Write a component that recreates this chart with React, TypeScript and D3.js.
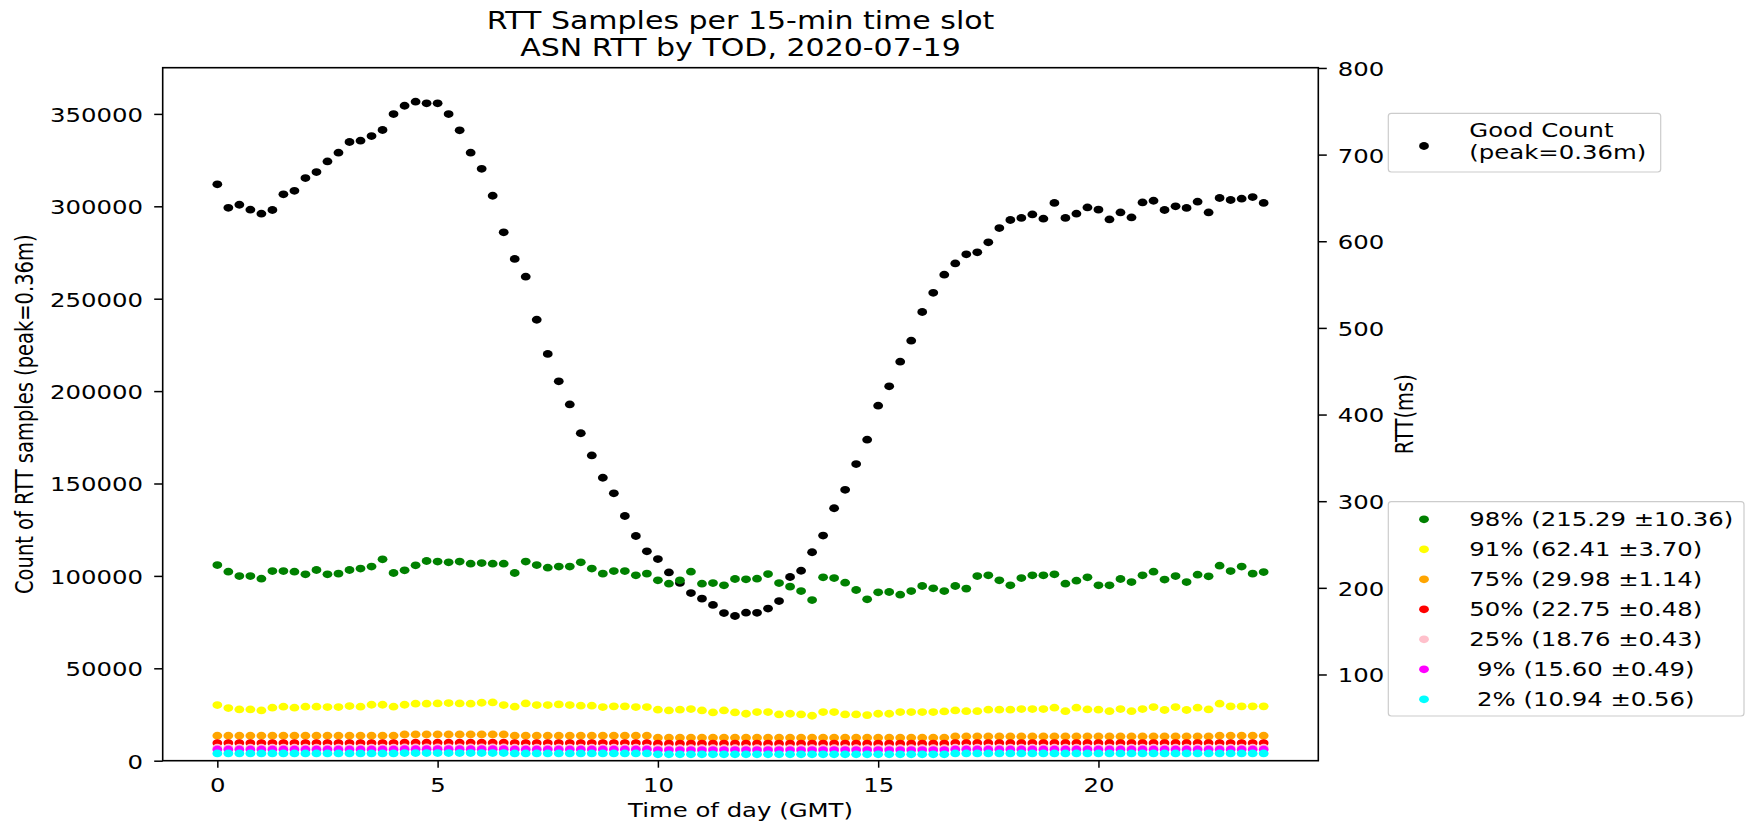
import * as d3 from "d3";
import { useEffect, useRef } from "react";

// 15-min slots, hours of day
const slots = d3.range(0, 24, 0.25);

// Good Count (left axis)
const goodCount = [
  311900, 299200, 300850, 298150, 296000, 298000, 306500, 308400, 315300, 318500,
  324300, 329000, 334800, 335500, 338000, 341300, 349900, 354400, 356600, 355700,
  355700, 349900, 341100, 329000, 320300, 305700, 285900, 271500, 261900, 238600,
  220100, 205300, 192800, 177200, 165200, 153100, 144700, 132400, 121600, 113300,
  109100, 101900, 96200, 90700, 87700, 84300, 79900, 78300, 80100, 80000,
  82300, 86400, 99400, 102800, 112800, 121800, 136600, 146600, 160500, 173700,
  192100, 202600, 215900, 227300, 242800, 253200, 263000, 269100, 274000, 275100,
  280500, 288200, 292600, 293700, 295600, 293300, 301800, 293700, 296000, 299400,
  298200, 292900, 296700, 294000, 302100, 303000, 298000, 300000, 299100, 302500,
  296700, 304500, 303400, 304100, 305000, 301800,
];

// RTT percentiles (right axis, ms)
const p98 = [
  226.3, 218.7, 213.6, 213.6, 210.6, 219.4, 219.4, 218.7, 215.6, 220.6,
  215.6, 216.4, 220.6, 222.2, 224.5, 232.9, 217.1, 220.2, 226.0, 231.0,
  230.3, 229.4, 230.3, 227.9, 228.6, 227.9, 227.9, 217.1, 230.3, 226.3,
  223.3, 224.5, 224.5, 229.4, 222.2, 216.4, 219.4, 219.4, 214.4, 216.4,
  208.7, 204.8, 208.7, 218.7, 204.8, 205.5, 202.9, 210.2, 209.8, 210.6,
  215.9, 205.5, 201.4, 196.3, 185.9, 212.1, 211.3, 206.0, 197.5, 186.7,
  194.8, 195.2, 192.1, 196.3, 202.1, 199.4, 196.3, 202.1, 199.1, 213.6,
  214.4, 208.7, 202.9, 211.3, 214.4, 214.4, 215.6, 204.8, 208.3, 212.1,
  202.9, 202.9, 210.2, 206.7, 214.4, 218.7, 209.5, 213.6, 206.7, 215.2,
  213.3, 225.6, 219.4, 224.5, 216.4, 218.2,
];
const p91 = [
  64.7, 61.2, 59.7, 59.7, 58.5, 61.7, 62.8, 61.7, 62.8, 62.8,
  62.4, 62.4, 63.5, 62.8, 65.1, 65.1, 62.8, 65.1, 66.3, 66.3,
  66.6, 67.0, 66.6, 66.3, 67.4, 67.8, 64.7, 62.8, 66.6, 64.7,
  64.7, 65.5, 64.7, 64.0, 64.0, 62.4, 63.2, 63.2, 62.4, 62.4,
  59.4, 58.5, 59.4, 60.1, 58.5, 56.2, 58.5, 56.2, 54.7, 56.6,
  56.6, 53.9, 54.7, 53.9, 52.4, 56.6, 56.6, 53.9, 53.9, 53.1,
  54.7, 54.7, 56.6, 56.6, 56.6, 56.6, 57.4, 58.5, 57.7, 57.7,
  59.4, 59.4, 59.4, 60.1, 60.1, 60.1, 61.7, 57.7, 61.7, 59.7,
  59.4, 57.7, 60.1, 57.7, 60.1, 62.4, 59.0, 62.4, 59.0, 61.7,
  59.7, 66.3, 63.2, 63.2, 63.2, 63.2,
];
const p75 = [
  29.3, 29.3, 29.3, 29.3, 29.3, 29.3, 29.3, 29.3, 29.3, 29.3,
  29.3, 29.3, 29.3, 29.3, 29.3, 29.3, 29.3, 30.8, 30.8, 30.8,
  30.8, 30.8, 30.8, 30.8, 30.8, 30.8, 30.8, 29.3, 29.3, 29.3,
  29.3, 29.3, 29.3, 29.3, 29.3, 29.3, 29.3, 29.3, 29.3, 29.3,
  27.0, 27.0, 27.0, 27.0, 27.0, 27.0, 27.0, 27.0, 27.0, 27.0,
  27.0, 27.0, 27.0, 27.0, 27.0, 27.0, 27.0, 27.0, 27.0, 27.0,
  27.0, 27.0, 27.0, 27.0, 27.0, 27.0, 27.0, 28.5, 28.5, 28.5,
  28.5, 28.5, 28.5, 28.5, 28.5, 28.5, 28.5, 28.5, 28.5, 28.5,
  28.5, 28.5, 28.5, 28.5, 28.5, 28.5, 28.5, 28.5, 28.5, 28.5,
  28.5, 29.3, 29.3, 29.3, 29.3, 29.3,
];
const p50 = [
  20.8, 20.8, 20.8, 20.8, 20.8, 20.8, 20.8, 20.8, 20.8, 20.8,
  20.8, 20.8, 20.8, 20.8, 20.8, 20.8, 20.8, 21.2, 21.2, 21.2,
  21.2, 21.2, 21.2, 21.2, 21.2, 21.2, 21.2, 20.8, 20.8, 20.8,
  20.8, 20.8, 20.8, 20.8, 20.8, 20.8, 20.8, 20.8, 20.8, 20.8,
  20.2, 20.2, 20.2, 20.2, 20.2, 20.2, 20.2, 20.2, 20.2, 20.2,
  20.2, 20.2, 20.2, 20.2, 20.2, 20.2, 20.2, 20.2, 20.2, 20.2,
  20.2, 20.2, 20.2, 20.2, 20.2, 20.2, 20.2, 20.8, 20.8, 20.8,
  20.8, 20.8, 20.8, 20.8, 20.8, 20.8, 20.8, 20.8, 20.8, 20.8,
  20.8, 20.8, 20.8, 20.8, 20.8, 20.8, 20.8, 20.8, 20.8, 20.8,
  20.8, 20.8, 20.8, 20.8, 20.8, 20.8,
];
const p25 = [
  15.5, 15.5, 15.5, 15.5, 15.5, 15.5, 15.5, 15.5, 15.5, 15.5,
  15.5, 15.5, 15.5, 15.5, 15.5, 15.5, 15.5, 15.8, 15.8, 15.8,
  15.8, 15.8, 15.8, 15.8, 15.8, 15.8, 15.8, 15.5, 15.5, 15.5,
  15.5, 15.5, 15.5, 15.5, 15.5, 15.5, 15.5, 15.5, 15.5, 15.5,
  15.0, 15.0, 15.0, 15.0, 15.0, 15.0, 15.0, 15.0, 15.0, 15.0,
  15.0, 15.0, 15.0, 15.0, 15.0, 15.0, 15.0, 15.0, 15.0, 15.0,
  15.0, 15.0, 15.0, 15.0, 15.0, 15.0, 15.0, 15.5, 15.5, 15.5,
  15.5, 15.5, 15.5, 15.5, 15.5, 15.5, 15.5, 15.5, 15.5, 15.5,
  15.5, 15.5, 15.5, 15.5, 15.5, 15.5, 15.5, 15.5, 15.5, 15.5,
  15.5, 15.5, 15.5, 15.5, 15.5, 15.5,
];
const p9 = [
  13.4, 13.4, 13.4, 13.4, 13.4, 13.4, 13.4, 13.4, 13.4, 13.4,
  13.4, 13.4, 13.4, 13.4, 13.4, 13.4, 13.4, 13.8, 13.8, 13.8,
  13.8, 13.8, 13.8, 13.8, 13.8, 13.8, 13.8, 13.4, 13.4, 13.4,
  13.4, 13.4, 13.4, 13.4, 13.4, 13.4, 13.4, 13.4, 13.4, 13.4,
  12.8, 12.8, 12.8, 12.8, 12.8, 12.8, 12.8, 12.8, 12.8, 12.8,
  12.8, 12.8, 12.8, 12.8, 12.8, 12.8, 12.8, 12.8, 12.8, 12.8,
  12.8, 12.8, 12.8, 12.8, 12.8, 12.8, 12.8, 13.4, 13.4, 13.4,
  13.4, 13.4, 13.4, 13.4, 13.4, 13.4, 13.4, 13.4, 13.4, 13.4,
  13.4, 13.4, 13.4, 13.4, 13.4, 13.4, 13.4, 13.4, 13.4, 13.4,
  13.4, 13.4, 13.4, 13.4, 13.4, 13.4,
];
const p2 = [
  8.9, 8.9, 8.9, 8.9, 8.9, 8.9, 8.9, 8.9, 8.9, 8.9,
  8.9, 8.9, 8.9, 8.9, 8.9, 8.9, 8.9, 9.3, 9.3, 9.3,
  9.3, 9.3, 9.3, 9.3, 9.3, 9.3, 9.3, 8.9, 8.9, 8.9,
  8.9, 8.9, 8.9, 8.9, 8.9, 8.9, 8.9, 8.9, 8.9, 8.9,
  7.9, 7.9, 7.9, 7.9, 7.9, 7.9, 7.9, 7.9, 7.9, 7.9,
  7.9, 7.9, 7.9, 7.9, 7.9, 7.9, 7.9, 7.9, 7.9, 7.9,
  7.9, 7.9, 7.9, 7.9, 7.9, 7.9, 7.9, 8.9, 8.9, 8.9,
  8.9, 8.9, 8.9, 8.9, 8.9, 8.9, 8.9, 8.9, 8.9, 8.9,
  8.9, 8.9, 8.9, 8.9, 8.9, 8.9, 8.9, 8.9, 8.9, 8.9,
  8.9, 8.9, 8.9, 8.9, 8.9, 8.9,
];

const pctSeries = [p98, p91, p75, p50, p25, p9, p2];
const pctColors = ["green", "yellow", "orange", "red", "pink", "magenta", "cyan"];
const pctLabels = [
  "98% (215.29 ±10.36)",
  "91% (62.41 ±3.70)",
  "75% (29.98 ±1.14)",
  "50% (22.75 ±0.48)",
  "25% (18.76 ±0.43)",
  " 9% (15.60 ±0.49)",
  " 2% (10.94 ±0.56)",
];

const leftTicks = [0, 50000, 100000, 150000, 200000, 250000, 300000, 350000];
const rightTicks = [100, 200, 300, 400, 500, 600, 700, 800];
const xTicks = [0, 5, 10, 15, 20];

const W = 1746, H = 823;
const SX = 1.25; // the picture is stretched sideways
const FONT = "DejaVu Sans, sans-serif";
const RX = 4.9, RY = 3.9;

const App = () => {
  const ref = useRef(null);

  useEffect(() => {
    const svg = d3.select(ref.current);
    svg.selectAll("*").remove();

    const left = 162.7, right = 1318.3, top = 67.7, bottom = 760.7;
    const x = d3.scaleLinear().domain([-1.24, 24.99]).range([left, right]);
    const yL = d3.scaleLinear().domain([0, 375000]).range([bottom, top]);
    const yR = d3.scaleLinear().domain([0.5, 800.3]).range([bottom, top]);

    const label = (tx, ty, txt, size, anchor, rot) => {
      svg.append("text")
        .attr("transform", `translate(${tx},${ty}) scale(${SX},1)` + (rot ? " rotate(-90)" : ""))
        .attr("text-anchor", anchor)
        .attr("font-size", size)
        .attr("font-family", FONT)
        .attr("fill", "black")
        .style("white-space", "pre")
        .text(txt);
    };

    // good count
    svg.append("g").selectAll("ellipse")
      .data(goodCount)
      .join("ellipse")
      .attr("cx", (d, i) => x(slots[i]))
      .attr("cy", (d) => yL(d))
      .attr("rx", RX).attr("ry", RY)
      .attr("fill", "black");

    // percentiles on the twin axis
    pctSeries.forEach((vals, k) => {
      svg.append("g").selectAll("ellipse")
        .data(vals)
        .join("ellipse")
        .attr("cx", (d, i) => x(slots[i]))
        .attr("cy", (d) => yR(d))
        .attr("rx", RX).attr("ry", RY)
        .attr("fill", pctColors[k]);
    });

    // spines
    svg.append("rect")
      .attr("x", left).attr("y", top)
      .attr("width", right - left).attr("height", bottom - top)
      .attr("fill", "none").attr("stroke", "black").attr("stroke-width", 1.6);

    const styleTicks = (g, shift) => {
      g.select(".domain").remove();
      g.selectAll(".tick line").attr("stroke", "black").attr("stroke-width", 1.5);
      g.selectAll(".tick text")
        .attr("x", 0).attr("y", 0)
        .attr("transform", shift)
        .attr("font-size", 19.5)
        .attr("font-family", FONT)
        .attr("fill", "black");
    };

    svg.append("g")
      .attr("transform", `translate(${left},0)`)
      .call(d3.axisLeft(yL).tickValues(leftTicks).tickSize(8.5).tickSizeOuter(0).tickFormat(d3.format("d")))
      .call((g) => styleTicks(g, `translate(-19.7,0) scale(${SX},1)`))
      .call((g) => g.selectAll(".tick text").attr("dy", "0.38em"));

    svg.append("g")
      .attr("transform", `translate(${right},0)`)
      .call(d3.axisRight(yR).tickValues(rightTicks).tickSize(8.5).tickSizeOuter(0).tickFormat(d3.format("d")))
      .call((g) => styleTicks(g, `translate(19.4,0) scale(${SX},1)`))
      .call((g) => g.selectAll(".tick text").attr("dy", "0.38em"));

    svg.append("g")
      .attr("transform", `translate(0,${bottom})`)
      .call(d3.axisBottom(x).tickValues(xTicks).tickSize(7).tickSizeOuter(0).tickFormat(d3.format("d")))
      .call((g) => styleTicks(g, `translate(0,31.5) scale(${SX},1)`))
      .call((g) => g.selectAll(".tick text").attr("dy", 0));

    // titles and axis labels
    const mid = (left + right) / 2;
    label(mid, 29.3, "RTT Samples per 15-min time slot", 24, "middle");
    label(mid, 56, "ASN RTT by TOD, 2020-07-19", 24, "middle");
    label(mid, 817, "Time of day (GMT)", 19.5, "middle");
    label(33, (top + bottom) / 2, "Count of RTT samples (peak=0.36m)", 19.5, "middle", true);
    label(1413, (top + bottom) / 2, "RTT(ms)", 19.5, "middle", true);

    // legend: good count
    svg.append("rect")
      .attr("x", 1388.3).attr("y", 113.3)
      .attr("width", 1660.7 - 1388.3).attr("height", 172 - 113.3)
      .attr("rx", 3).attr("fill", "white").attr("fill-opacity", 0.8)
      .attr("stroke", "#cccccc").attr("stroke-width", 1.2);
    svg.append("ellipse").attr("cx", 1424).attr("cy", 146).attr("rx", RX).attr("ry", RY).attr("fill", "black");
    label(1469.3, 137.3, "Good Count", 19.5, "start");
    label(1469.3, 159.3, "(peak=0.36m)", 19.5, "start");

    // legend: percentiles
    svg.append("rect")
      .attr("x", 1388.3).attr("y", 501.7)
      .attr("width", 1744 - 1388.3).attr("height", 716 - 501.7)
      .attr("rx", 3).attr("fill", "white").attr("fill-opacity", 0.8)
      .attr("stroke", "#cccccc").attr("stroke-width", 1.2);
    pctLabels.forEach((txt, k) => {
      const cy = 519.3 + k * 30;
      svg.append("ellipse").attr("cx", 1424).attr("cy", cy).attr("rx", RX).attr("ry", RY).attr("fill", pctColors[k]);
      label(1469.3, cy + 6.8, txt, 19.5, "start");
    });
  }, []);

  return (
    <svg
      ref={ref}
      width={W}
      height={H}
      style={{ position: "absolute", left: 0, top: 0, background: "white" }}
    />
  );
};

export default App;
